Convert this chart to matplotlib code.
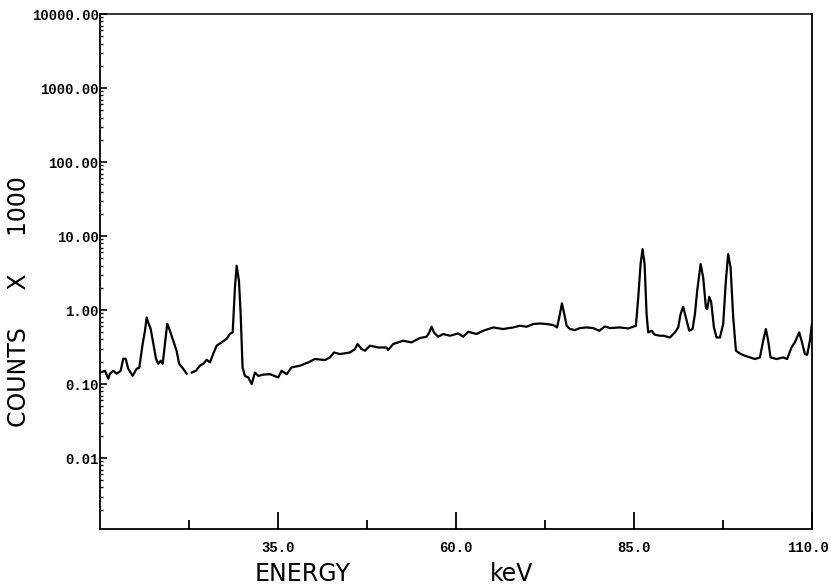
import matplotlib
matplotlib.use("Agg")
import matplotlib.pyplot as plt
import numpy as np
from matplotlib.font_manager import FontProperties
from matplotlib.ticker import FixedLocator, FixedFormatter, LogLocator, NullFormatter
from matplotlib.transforms import ScaledTranslation

# spectrum (energy keV, counts x 1000); nan = gap in the trace
energy = [10.0, 10.7, 11.17, 11.4, 11.87, 12.35, 12.91, 13.27, 13.61, 13.97, 14.59, 15.15,
          15.52, 16.0, 16.32, 16.56, 16.78, 17.12, 17.49, 17.87, 18.19, 18.53, 18.81, 19.13,
          19.45, 19.83, 20.29, 20.76, 21.12, 21.69, 22.18,
          np.nan,
          22.88, 23.48, 24.04, 24.51, 24.99, 25.45, 25.91, 26.39, 27.09, 27.8, 28.26, 28.64,
          28.96, 29.2, 29.52, 29.76, 30.03, 30.36, 30.83, 31.31, 31.77, 32.23, 32.94, 33.88,
          35.04, 35.51, 36.22, 36.92, 38.09, 39.26, 40.2, 41.6, 42.3, 42.87, 43.71, 45.11,
          45.81, 46.19, 46.75, 47.22, 47.92, 49.09, 50.25, 50.48, 51.18, 52.58, 53.76, 54.94,
          55.88, 56.25, 56.59, 56.91, 57.51, 58.2, 59.16, 60.32, 61.03, 61.73, 62.89, 63.83,
          65.24, 66.64, 68.04, 68.99, 69.93, 70.86, 71.8, 72.74, 73.67, 74.21, 74.61, 74.89,
          75.17, 75.55, 76.01, 76.71, 77.42, 78.36, 79.28, 80.13, 80.93, 81.63, 83.03, 84.2,
          85.28, 85.61, 85.94, 86.22, 86.5, 86.78, 87.01, 87.47, 87.94, 88.65, 89.11, 90.06,
          90.76, 91.22, 91.56, 91.92, 92.3, 92.77, 93.24, 93.57, 93.89, 94.37, 94.73, 95.11,
          95.3, 95.58, 95.86, 96.24, 96.61, 97.08, 97.54, 97.92, 98.24, 98.58, 98.95, 99.33,
          99.89, 100.59, 101.29, 102.0, 102.7, 103.16, 103.54, 103.86, 104.19, 105.03, 105.96,
          106.52, 107.13, 107.6, 108.22, 108.55, 109.02, 109.34, 109.72, 110.0]
counts = [0.143, 0.151, 0.118, 0.138, 0.151, 0.138, 0.151, 0.22, 0.22, 0.161, 0.129, 0.161,
          0.166, 0.351, 0.525, 0.794, 0.68, 0.559, 0.351, 0.22, 0.188, 0.207, 0.188, 0.351,
          0.653, 0.525, 0.385, 0.282, 0.188, 0.161, 0.138,
          np.nan,
          0.143, 0.151, 0.177, 0.188, 0.213, 0.196, 0.257, 0.33, 0.365, 0.409, 0.478, 0.498,
          2.02, 3.97, 2.49, 0.891, 0.168, 0.129, 0.123, 0.1, 0.143, 0.129, 0.134, 0.136,
          0.123, 0.151, 0.136, 0.168, 0.177, 0.196, 0.218, 0.211, 0.229, 0.267, 0.254, 0.267,
          0.297, 0.347, 0.297, 0.282, 0.33, 0.312, 0.312, 0.288, 0.347, 0.385, 0.365, 0.419,
          0.436, 0.498, 0.595, 0.498, 0.436, 0.474, 0.45, 0.483, 0.436, 0.509, 0.474, 0.525,
          0.582, 0.554, 0.582, 0.614, 0.595, 0.647, 0.659, 0.647, 0.627, 0.582, 0.883, 1.23,
          0.928, 0.614, 0.554, 0.537, 0.571, 0.582, 0.571, 0.525, 0.6, 0.571, 0.582, 0.564,
          0.614, 1.48, 4.19, 6.67, 4.19, 0.883, 0.498, 0.525, 0.464, 0.45, 0.45, 0.426,
          0.498, 0.582, 0.883, 1.11, 0.794, 0.525, 0.554, 0.883, 1.82, 4.19, 2.76, 1.08,
          1.03, 1.51, 1.27, 0.582, 0.426, 0.426, 0.647, 2.49, 5.71, 3.76, 0.794, 0.282,
          0.259, 0.241, 0.229, 0.218, 0.229, 0.385, 0.554, 0.385, 0.229, 0.218, 0.229,
          0.218, 0.312, 0.365, 0.498, 0.385, 0.254, 0.249, 0.385, 0.647]

x_major = [35, 60, 85, 110]
x_minor = [22.5, 47.5, 72.5, 97.5]
x_labels = ["35.0", "60.0", "85.0", "110.0"]
y_major = [0.01, 0.1, 1, 10, 100, 1000, 10000]
y_labels = ["0.01", "0.10", "1.00", "10.00", "100.00", "1000.00", "10000.00"]

TICKFONT = FontProperties(family="Liberation Mono", weight="bold", size=10)

fig = plt.figure(figsize=(8.31, 5.86), dpi=100)
ax = fig.add_axes([0.1203, 0.0973, 0.8567, 0.8787])

ax.plot(energy, counts, color="black", lw=1.6)
ax.set_yscale("log")
ax.set_xlim(10, 110)
ax.set_ylim(0.0011, 10000)

ax.xaxis.set_major_locator(FixedLocator(x_major))
ax.xaxis.set_major_formatter(FixedFormatter(x_labels))
ax.xaxis.set_minor_locator(FixedLocator(x_minor))
ax.yaxis.set_major_locator(FixedLocator(y_major))
ax.yaxis.set_major_formatter(FixedFormatter(y_labels))
ax.yaxis.set_minor_locator(LogLocator(base=10, subs=np.arange(2, 10), numticks=20))
ax.yaxis.set_minor_formatter(NullFormatter())

ax.tick_params(axis="x", which="major", direction="in", length=12, width=1.3, pad=9)
ax.tick_params(axis="x", which="minor", direction="in", length=6.5, width=1.3)
ax.tick_params(axis="y", which="major", direction="in", length=5, width=1.2, pad=1)
ax.tick_params(axis="y", which="minor", direction="in", length=2.5, width=1.0)
ax.tick_params(top=False, right=False, which="both")
for lab in ax.get_xticklabels() + ax.get_yticklabels():
    lab.set_fontproperties(TICKFONT)

# "110.0" sits right at the page edge; nudge it in a little
last = ax.xaxis.get_major_ticks()[-1].label1
last.set_transform(last.get_transform() + ScaledTranslation(-3 / 72, 0, fig.dpi_scale_trans))

for sp in ax.spines.values():
    sp.set_linewidth(1.3)
ax.spines["top"].set_linewidth(1.1)

# axis titles in the thin, widely spaced plotter lettering
fig.text(0.023, 0.485, "COUNTS     X     1000", rotation=90, ha="center", va="center",
         fontsize=17, family="DejaVu Sans")
fig.text(0.3635, 0.02, "ENERGY", ha="center", va="center", fontsize=17, family="DejaVu Sans")
fig.text(0.615, 0.02, "keV", ha="center", va="center", fontsize=17, family="DejaVu Sans")

fig.savefig("out.png", dpi=100)
